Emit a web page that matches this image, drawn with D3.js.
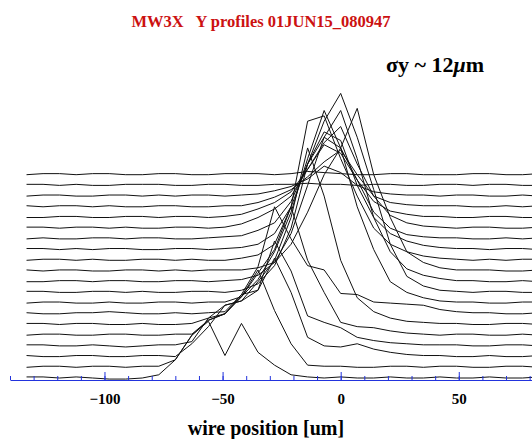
<!DOCTYPE html>
<html>
<head>
<meta charset="utf-8">
<script src="https://cdn.jsdelivr.net/npm/d3@7"></script>
<style>
	body { margin: 0; background: #fff; }
	svg { display: block; }
	text { font-family: "Liberation Serif", "DejaVu Serif", serif; font-weight: bold; }
</style>
</head>
<body>
<div id="chart"></div>
<script>
// wire positions (um) of the scan points
const wirePos = [-133, -126, -119, -112, -105, -98, -91, -84, -77, -70, -63, -56, -49, -42, -35, -28,
	-21, -14, -7, 0, 7, 14, 21, 28, 35, 42, 49, 56, 63, 70, 77, 84];

// one profile per scan, bottom to top (signal above its own baseline)
const scan01 = [1, 1, 0, 1, 0, -1, -1, 0, 3, 17, 40, 53, 21, 51, 24, 12, 3, 1, 0, 1, 0, 0, 1, 0, 0, 1, 0, 0, 1, 0, 0, 1];
const scan02 = [0, 1, 1, 0, 1, 1, 0, 1, 1, 7, 30, 44, 50, 66, 91, 53, 22, 2, 1, 1, 0, 0, 1, 1, 0, 1, 1, 0, 0, 1, 1, 0];
const scan03 = [1, 0, 0, 1, 1, 0, 0, 1, 1, 0, 12, 28, 48, 52, 62, 92, 60, 18, 10, 9, 12, 7, 4, 2, 1, 1, 0, 0, 1, 0, 0, 1];
const scan04 = [1, 1, 0, 0, 1, 0, -1, 0, 1, 1, 4, 26, 30, 48, 52, 98, 70, 28, 22, 17, 8, 5, 3, 2, 1, 1, 1, 0, 0, 1, 1, 0];
const scan05 = [0, 1, 1, 0, 0, 1, 1, 0, 0, 1, 1, 14, 20, 36, 58, 80, 120, 70, 40, 12, 8, 7, 4, 2, 1, 0, 1, 1, 0, 0, 1, 0];
const scan06 = [1, 1, 0, 1, 1, 0, 0, 1, 0, 0, 1, 6, 18, 22, 40, 60, 100, 165, 120, 60, 25, 12, 6, 3, 2, 1, 1, 0, 0, 1, 1, 0];
const scan07 = [1, 0, 0, 1, 1, 2, 1, 0, 0, 1, 0, 1, 2, 18, 44, 100, 70, 45, 41, 19, 18, 11, 10, 9, 8, 4, 2, 1, 1, 0, 0, 1];
const scan08 = [0, 1, 1, 0, 0, 1, 0, 0, 1, 1, 0, 1, 1, 6, 22, 48, 85, 135, 180, 145, 90, 50, 20, 10, 5, 2, 1, 1, 0, 0, 1, 1];
const scan09 = [1, 1, 0, 0, 1, 1, 0, 1, 0, 0, 1, 1, 0, 2, 8, 25, 60, 120, 160, 186, 145, 96, 45, 15, 6, 2, 1, 0, 1, 1, 0, 0];
const scan10 = [0, 0, 1, 1, 0, 1, 1, 0, 0, 1, 1, 0, 1, 2, 6, 18, 45, 90, 135, 160, 115, 60, 28, 12, 6, 3, 1, 1, 0, 0, 1, 0];
const scan11 = [1, 0, 1, 1, 0, 0, 1, 1, 0, 1, 0, 1, 1, 1, 3, 8, 25, 55, 90, 115, 152, 90, 50, 18, 8, 3, 1, 1, 1, 0, 0, 1];
const scan12 = [0, 1, 1, 0, 1, 0, 0, 1, 1, 0, 1, 0, 0, 2, 5, 15, 50, 130, 135, 95, 60, 30, 15, 8, 4, 2, 1, 0, 1, 0, 1, 1];
const scan13 = [1, 1, 0, 1, 0, 1, 1, 0, 0, 1, 1, 0, 1, 2, 5, 15, 40, 80, 110, 102, 60, 30, 15, 8, 4, 2, 1, 1, 0, 1, 1, 0];
const scan14 = [0, 1, 0, 0, 1, 1, 0, 1, 1, 0, 0, 1, 2, 3, 8, 15, 35, 70, 95, 85, 55, 25, 10, 4, 2, 1, 1, 0, 0, 1, 0, 1];
const scan15 = [1, 1, 0, 1, 1, 0, 1, 0, 0, 1, 1, 0, 1, 4, 10, 18, 30, 55, 80, 95, 60, 30, 12, 5, 2, 1, 0, 1, 1, 0, 0, 1];
const scan16 = [0, 0, 1, 1, 0, 0, 1, 1, 0, 1, 1, 0, 1, 3, 8, 14, 24, 45, 68, 60, 35, 15, 6, 3, 1, 1, 0, 0, 1, 1, 0, 0];
const scan17 = [1, 0, 1, 1, 0, 1, 0, 0, 1, 1, 0, 0, 1, 1, 4, 9, 16, 28, 42, 53, 30, 10, 4, 2, 1, 1, 1, 0, 0, 1, 0, 1];
const scan18 = [0, 1, 1, 0, 0, 1, 1, 0, 1, 0, 1, 1, 0, 1, 2, 5, 9, 16, 28, 22, 10, 4, 2, 1, 1, 0, 1, 1, 0, 0, 1, 0];
const scan19 = [1, 1, 0, 1, 0, 0, 1, 1, 1, 0, 0, 1, 1, 0, 0, 1, 1, 2, 1, 1, 0, 1, 1, 0, 0, 1, 1, 0, 1, 1, 0, 0];
const scan20 = [0, 1, 1, 0, 1, 1, 0, 0, 1, 1, 0, 0, 1, 1, 1, 0, 1, 3, 2, 1, 0, 0, 1, 1, 0, 0, 0, 1, 1, 0, 0, 1];

const profiles = [scan01, scan02, scan03, scan04, scan05, scan06, scan07, scan08, scan09, scan10,
	scan11, scan12, scan13, scan14, scan15, scan16, scan17, scan18, scan19, scan20];

const majorTicks = [-100, -50, 0, 50];
const minorTicks = d3.range(-140, 81, 10);
const OFFSET = 10; // signal units between stacked profiles

const
	width = 532,
	height = 439;

const svg = d3.select("#chart")
	.append("svg")
	.attr("width", width)
	.attr("height", height);

const x = d3.scaleLinear()
	.domain([-140, 81])
	.range([10, 532]);

const y = d3.scaleLinear()
	.domain([0, 280])
	.range([378, 378 - 280 * 1.07]);

const line = d3.line()
	.x(d => x(d.pos))
	.y(d => y(d.value));

profiles.forEach((scan, i) => {
	const pts = scan.map((v, j) => ({ pos: wirePos[j], value: i * OFFSET + v }));
	svg.append("path")
		.datum(pts)
		.attr("d", line)
		.attr("fill", "none")
		.attr("stroke", "#111")
		.attr("stroke-width", 1);
});

// axis: minor ticks + domain line, then labelled major ticks
const axisG = svg.append("g").attr("transform", "translate(0, 380)");
axisG.call(d3.axisBottom(x).tickValues(minorTicks).tickSize(-4).tickSizeOuter(0).tickFormat(""));
axisG.append("g").call(d3.axisBottom(x).tickValues(majorTicks).tickSize(-8).tickSizeOuter(0).tickPadding(13).tickFormat(d3.format("d")));
axisG.selectAll(".domain").attr("stroke", "#2233dd");
axisG.selectAll(".tick line").attr("stroke", "#2233dd");
axisG.selectAll("g g .domain").remove();
axisG.selectAll(".tick text")
	.attr("fill", "#000")
	.style("font-family", "'Liberation Serif', serif")
	.style("font-weight", "bold")
	.style("font-size", "15px");

svg.append("text")
	.attr("x", 266)
	.attr("y", 435)
	.attr("text-anchor", "middle")
	.style("font-size", "20px")
	.text("wire position [um]");

svg.append("text")
	.attr("x", 261)
	.attr("y", 27)
	.attr("text-anchor", "middle")
	.attr("fill", "#cc1111")
	.style("font-size", "16.5px")
	.attr("xml:space", "preserve")
	.text("MW3X   Y profiles 01JUN15_080947");

const sigma = svg.append("text")
	.attr("x", 386)
	.attr("y", 72)
	.style("font-size", "22px");
sigma.append("tspan").text("σy ~ 12");
sigma.append("tspan").style("font-style", "italic").text("μ");
sigma.append("tspan").text("m");
</script>
</body>
</html>
